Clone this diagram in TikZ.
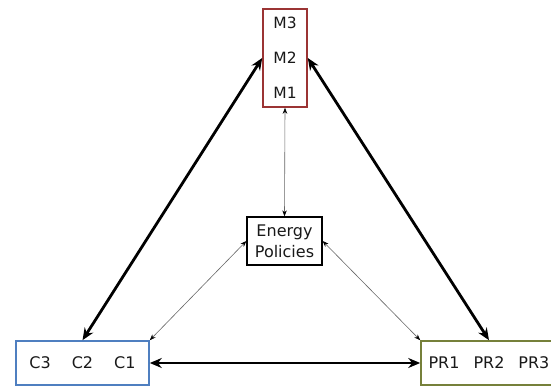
\documentclass[tikz,border=0pt]{standalone}
\usepackage{fontspec}
\setmainfont{DejaVu Sans}
\usepackage{tikz}
\usetikzlibrary{arrows.meta}

\definecolor{mred}{HTML}{9B3434}
\definecolor{cblue}{HTML}{4F7FC0}
\definecolor{prgreen}{HTML}{76803A}

\begin{document}
\begin{tikzpicture}[
  x=1pt, y=-1pt,
  box/.style={draw, line width=1.6pt, inner sep=0pt, text=black!90, font=\fontsize{16}{19}\selectfont},
  bold/.style={{Stealth[length=12pt,width=10pt]}-{Stealth[length=12pt,width=10pt]}, line width=2.8pt},
  fine/.style={{Stealth[length=6pt,width=4.5pt,black]}-{Stealth[length=6pt,width=4.5pt,black]}, line width=0.6pt, gray!80!black},
]
\useasboundingbox (0,0) rectangle (551,387);

% --- Boxes ---
\node[box, draw=mred, minimum width=44pt, minimum height=98pt, align=center,
      font=\fontsize{15.5}{35}\selectfont] (mbox) at (285,58) {M3\\M2\\M1};
\node[box, draw=black, line width=1.3pt, minimum width=75pt, minimum height=48pt, align=center,
      font=\fontsize{16}{21}\selectfont] (energy) at (284.5,241) {Energy\\Policies};
\node[box, draw=cblue, minimum width=133pt, minimum height=44pt] (cbox) at (82.5,363)
      {C3\hspace{21pt}C2\hspace{21pt}C1};
\node[box, draw=prgreen, minimum width=136pt, minimum height=44pt] (prbox) at (489,363)
      {PR1\hspace{14pt}PR2\hspace{14pt}PR3};

% --- Strong links ---
\draw[bold] (cbox.north) -- (mbox.west);
\draw[bold] (prbox.north) -- (mbox.east);
\draw[bold] (cbox.east) -- (prbox.west);

% --- Links to policies ---
\draw[fine] (mbox.south) -- (energy.north);
\draw[fine] (cbox.north east) -- (energy.west);
\draw[fine] (energy.east) -- (prbox.north west);

\end{tikzpicture}
\end{document}
